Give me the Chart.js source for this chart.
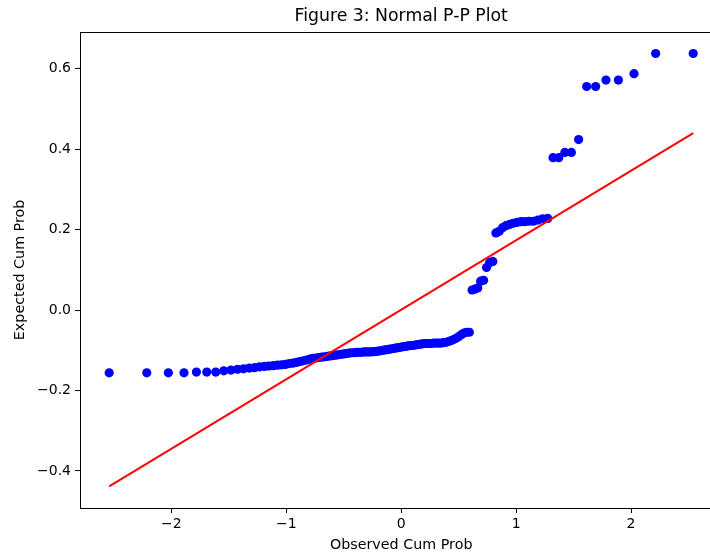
<!DOCTYPE html>
<html>
<head>
<meta charset="utf-8">
<script src="https://cdn.jsdelivr.net/npm/chart.js@4"></script>
<style>
html,body{margin:0;padding:0;background:#fff;overflow:hidden;}
#wrap{width:727px;height:554px;}
</style>
</head>
<body>
<div id="wrap"><canvas id="c" width="727" height="554"></canvas></div>
<script>
// Theoretical (x) positions of the ordered points
const observedX = [
-2.541,-2.214,-2.026,-1.890,-1.782,-1.692,-1.614,-1.544,-1.481,-1.424,
-1.371,-1.321,-1.275,-1.231,-1.189,-1.150,-1.112,-1.076,-1.041,-1.007,
-0.974,-0.943,-0.912,-0.882,-0.853,-0.824,-0.797,-0.769,-0.743,-0.717,
-0.691,-0.666,-0.641,-0.617,-0.593,-0.569,-0.546,-0.523,-0.500,-0.477,
-0.455,-0.433,-0.411,-0.390,-0.368,-0.347,-0.326,-0.305,-0.284,-0.263,
-0.242,-0.222,-0.201,-0.181,-0.161,-0.140,-0.120,-0.100,-0.080,-0.060,
-0.040,-0.020,
0.000,
0.020,0.040,0.060,0.080,0.100,0.120,0.140,0.161,0.181,0.201,
0.222,0.242,0.263,0.284,0.305,0.326,0.347,0.368,0.390,0.411,
0.433,0.455,0.477,0.500,0.523,0.546,0.569,0.593,0.617,0.641,
0.666,0.691,0.717,0.743,0.769,0.797,0.824,0.853,0.882,0.912,
0.943,0.974,1.007,1.041,1.076,1.112,1.150,1.189,1.231,1.275,
1.321,1.371,1.424,1.481,1.544,1.614,1.692,1.782,1.890,2.026,
2.214,2.541
];
// Ordered values (y)
const expectedY = [
-0.156,-0.156,-0.156,-0.156,-0.154,-0.154,-0.154,-0.151,-0.149,-0.147,
-0.146,-0.144,-0.143,-0.141,-0.140,-0.139,-0.138,-0.137,-0.136,-0.135,
-0.133,-0.132,-0.130,-0.128,-0.126,-0.124,-0.122,-0.120,-0.119,-0.118,
-0.117,-0.116,-0.115,-0.114,-0.113,-0.112,-0.111,-0.110,-0.109,-0.108,
-0.107,-0.106,-0.106,-0.105,-0.105,-0.105,-0.104,-0.104,-0.104,-0.104,
-0.103,-0.103,-0.102,-0.101,-0.100,-0.099,-0.098,-0.097,-0.096,-0.095,
-0.094,-0.093,-0.092,-0.091,-0.090,-0.089,-0.088,-0.088,-0.087,-0.086,
-0.085,-0.084,-0.083,-0.083,-0.083,-0.083,-0.082,-0.082,-0.082,-0.082,
-0.081,-0.080,-0.078,-0.076,-0.073,-0.070,-0.066,-0.061,-0.057,-0.055,
-0.055,0.050,0.052,0.055,0.072,0.074,0.106,0.118,0.121,0.192,
0.196,0.205,0.210,0.213,0.216,0.218,0.220,0.220,0.221,0.221,
0.224,0.227,0.228,0.379,0.379,0.392,0.392,0.424,0.556,0.556,
0.572,0.572,0.588,0.638,0.638
];
// Reference line end points
const lineX = [-2.541, 2.541];
const lineY = [-0.438, 0.440];
// Tick values
const xTicks = [-2, -1, 0, 1, 2];
const yTicks = [-0.4, -0.2, 0.0, 0.2, 0.4, 0.6];
const xRange = [-2.795, 2.795];
const yRange = [-0.492, 0.692];
const chartTitle = 'Figure 3: Normal P-P Plot';

const FONT = "'DejaVu Sans', sans-serif";
const minus = s => s.replace('-', '\u2212');

const framePlugin = {
  id: 'frame',
  afterDatasetsDraw(chart) {
    const a = chart.chartArea, ctx = chart.ctx;
    ctx.save();
    ctx.strokeStyle = '#000';
    ctx.lineWidth = 1;
    ctx.strokeRect(Math.round(a.left) + 0.5, Math.round(a.top) + 0.5,
                   Math.round(a.right - a.left), Math.round(a.bottom - a.top));
    // title centred over the axes area (as matplotlib does)
    ctx.fillStyle = '#000';
    ctx.font = '17.3px ' + FONT;
    ctx.textAlign = 'center';
    ctx.textBaseline = 'middle';
    ctx.fillText(chartTitle, (a.left + a.right) / 2, 17);
    ctx.restore();
  }
};

new Chart(document.getElementById('c'), {
  type: 'scatter',
  data: {
    datasets: [
      {
        type: 'line',
        data: lineX.map((x, i) => ({x, y: lineY[i]})),
        borderColor: '#ff0000',
        borderWidth: 2,
        pointRadius: 0,
        fill: false,
        order: 0
      },
      {
        data: observedX.map((x, i) => ({x, y: expectedY[i]})),
        backgroundColor: '#0000ff',
        borderColor: '#0000ff',
        borderWidth: 0,
        pointRadius: 4.6,
        order: 1
      }
    ]
  },
  options: {
    responsive: false,
    animation: false,
    devicePixelRatio: 1,
    layout: { padding: { left: 0, right: 1, top: 31.8, bottom: 0 } },
    plugins: {
      legend: { display: false },
      tooltip: { enabled: false },
      title: { display: false }
    },
    scales: {
      x: {
        type: 'linear',
        min: xRange[0], max: xRange[1],
        afterBuildTicks: s => { s.ticks = xTicks.map(v => ({value: v})); },
        afterFit: s => { s.height = 46; },
        grid: { drawOnChartArea: false, drawTicks: true, tickLength: 5, color: '#000', tickColor: '#000' },
        border: { display: false },
        ticks: {
          color: '#000', padding: 3, maxRotation: 0,
          font: { family: FONT, size: 14 },
          callback: v => minus(String(v))
        },
        title: {
          display: true, text: 'Observed Cum Prob', color: '#000',
          font: { family: FONT, size: 14.3, lineHeight: 1.2 },
          padding: { top: 0, bottom: 0 }
        }
      },
      y: {
        type: 'linear',
        min: yRange[0], max: yRange[1],
        afterBuildTicks: s => { s.ticks = yTicks.map(v => ({value: v})); },
        afterFit: s => { s.width = 80; },
        grid: { drawOnChartArea: false, drawTicks: true, tickLength: 5, color: '#000', tickColor: '#000' },
        border: { display: false },
        ticks: {
          color: '#000', padding: 4,
          font: { family: FONT, size: 14 },
          callback: v => minus(Number(v).toFixed(1))
        },
        title: {
          display: true, text: 'Expected Cum Prob', color: '#000',
          font: { family: FONT, size: 14.3, lineHeight: 1.2 },
          padding: { top: 12, bottom: 0 }
        }
      }
    }
  },
  plugins: [framePlugin]
});
</script>
</body>
</html>
